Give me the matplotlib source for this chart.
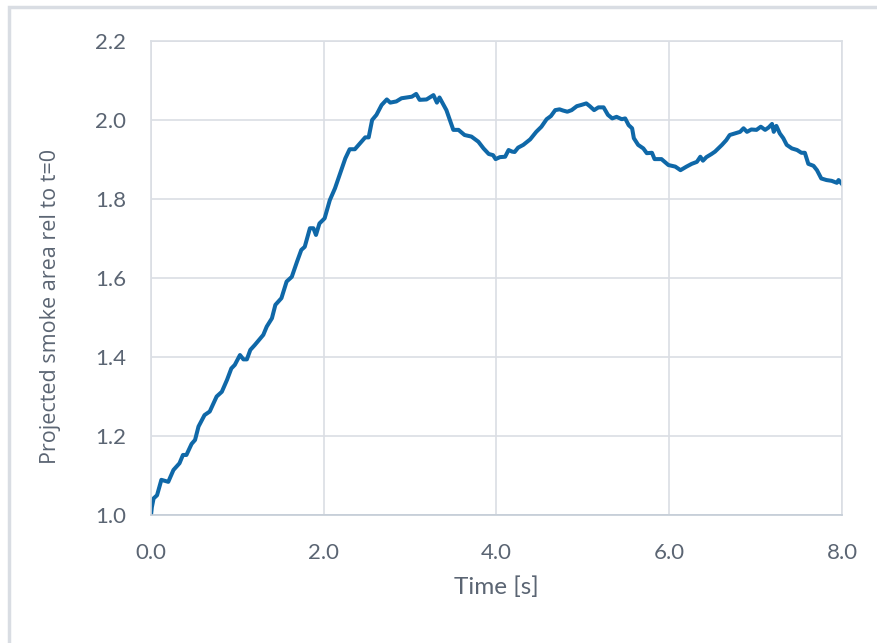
import matplotlib
matplotlib.use("Agg")
import matplotlib.pyplot as plt
from matplotlib.patches import Rectangle

time_s = [0.0, 0.01, 0.03, 0.07, 0.12, 0.20, 0.26, 0.33, 0.37, 0.41, 0.47, 0.51, 0.55, 0.62, 0.68,
          0.76, 0.82, 0.88, 0.93, 0.97, 1.03, 1.07, 1.11, 1.15, 1.20, 1.30, 1.34, 1.40, 1.44, 1.49,
          1.51, 1.57, 1.63, 1.69, 1.74, 1.78, 1.84, 1.88, 1.91, 1.95, 2.01, 2.07, 2.13, 2.19, 2.25,
          2.30, 2.36, 2.42, 2.48, 2.52, 2.56, 2.61, 2.67, 2.73, 2.77, 2.84, 2.90, 2.96, 3.02, 3.07,
          3.11, 3.19, 3.27, 3.31, 3.34, 3.42, 3.50, 3.56, 3.63, 3.71, 3.79, 3.85, 3.91, 3.96, 3.99,
          4.04, 4.10, 4.14, 4.18, 4.21, 4.25, 4.31, 4.39, 4.46, 4.52, 4.58, 4.63, 4.68, 4.73, 4.77,
          4.82, 4.87, 4.93, 4.98, 5.04, 5.08, 5.13, 5.18, 5.24, 5.29, 5.34, 5.39, 5.45, 5.49, 5.53,
          5.57, 5.59, 5.64, 5.70, 5.74, 5.80, 5.83, 5.91, 5.99, 6.07, 6.13, 6.20, 6.26, 6.32, 6.36,
          6.39, 6.43, 6.49, 6.53, 6.61, 6.66, 6.70, 6.76, 6.82, 6.86, 6.90, 6.95, 7.01, 7.06, 7.11,
          7.15, 7.19, 7.21, 7.24, 7.28, 7.32, 7.36, 7.42, 7.48, 7.53, 7.57, 7.61, 7.67, 7.71, 7.76,
          7.82, 7.88, 7.94, 7.96, 8.0]
area_rel = [1.000, 1.020, 1.042, 1.050, 1.089, 1.084, 1.114, 1.131, 1.152, 1.152, 1.180, 1.190, 1.224, 1.253, 1.262,
            1.300, 1.312, 1.342, 1.371, 1.380, 1.405, 1.394, 1.394, 1.418, 1.430, 1.456, 1.477, 1.498, 1.532, 1.544,
            1.549, 1.591, 1.603, 1.641, 1.671, 1.679, 1.726, 1.726, 1.709, 1.738, 1.751, 1.797, 1.827, 1.865, 1.903,
            1.926, 1.926, 1.941, 1.956, 1.956, 2.000, 2.013, 2.038, 2.052, 2.044, 2.047, 2.055, 2.057, 2.059, 2.066,
            2.051, 2.052, 2.063, 2.044, 2.057, 2.025, 1.975, 1.975, 1.962, 1.958, 1.945, 1.928, 1.914, 1.911, 1.901,
            1.906, 1.907, 1.924, 1.920, 1.919, 1.930, 1.937, 1.951, 1.970, 1.983, 2.002, 2.010, 2.025, 2.027, 2.024,
            2.021, 2.025, 2.035, 2.038, 2.042, 2.035, 2.025, 2.032, 2.032, 2.013, 2.004, 2.008, 2.002, 2.004, 1.987,
            1.979, 1.954, 1.937, 1.928, 1.916, 1.917, 1.901, 1.901, 1.886, 1.882, 1.873, 1.882, 1.889, 1.894, 1.907,
            1.897, 1.906, 1.914, 1.920, 1.937, 1.949, 1.962, 1.966, 1.970, 1.979, 1.970, 1.976, 1.975, 1.983, 1.975,
            1.981, 1.990, 1.970, 1.985, 1.966, 1.954, 1.937, 1.928, 1.924, 1.917, 1.917, 1.889, 1.884, 1.873, 1.852,
            1.848, 1.846, 1.841, 1.848, 1.838]

x_ticks = [0.0, 2.0, 4.0, 6.0, 8.0]
y_ticks = [1.0, 1.2, 1.4, 1.6, 1.8, 2.0, 2.2]

text_color = "#5b6573"
grid_color = "#dadee4"
line_color = "#0f68a8"

fig = plt.figure(figsize=(8.77, 6.43), dpi=100)
fig.patch.set_facecolor("white")
# chart outer frame (partly cropped)
fig.patches.append(Rectangle((9 / 877, -0.05), 1.2, 1 - 7 / 643 + 0.05, transform=fig.transFigure,
                             fill=False, edgecolor="#d9dde3", linewidth=2.5))

ax = fig.add_axes([151 / 877, 1 - 515 / 643, (842 - 151) / 877, (515 - 41) / 643])
ax.plot(time_s, area_rel, color=line_color, linewidth=2.9, solid_joinstyle="round")

ax.set_xlim(0, 8)
ax.set_ylim(1.0, 2.2)
ax.set_xticks(x_ticks)
ax.set_yticks(y_ticks)
ax.set_xticklabels([f"{v:.1f}" for v in x_ticks])
ax.set_yticklabels([f"{v:.1f}" for v in y_ticks])
ax.grid(True, color=grid_color, linewidth=1.2)
ax.set_axisbelow(True)
for s in ["top", "right", "left"]:
    ax.spines[s].set_color(grid_color)
    ax.spines[s].set_linewidth(1.2)
ax.spines["bottom"].set_color("#c3ccd6")
ax.spines["bottom"].set_linewidth(1.2)
ax.tick_params(axis="both", length=0, labelsize=16, labelcolor=text_color)
ax.tick_params(axis="y", pad=18)
ax.tick_params(axis="x", pad=20)
for lab in ax.get_xticklabels() + ax.get_yticklabels():
    lab.set_family("Lato")

ax.set_xlabel("Time [s]", fontsize=17.5, color=text_color, family="Lato", labelpad=10)
ax.set_ylabel("Projected smoke area rel to t=0", fontsize=15.5, color=text_color,
              family="Open Sans")
ax.yaxis.set_label_coords(-0.130, 0.44)

fig.savefig("out.png", dpi=100)
